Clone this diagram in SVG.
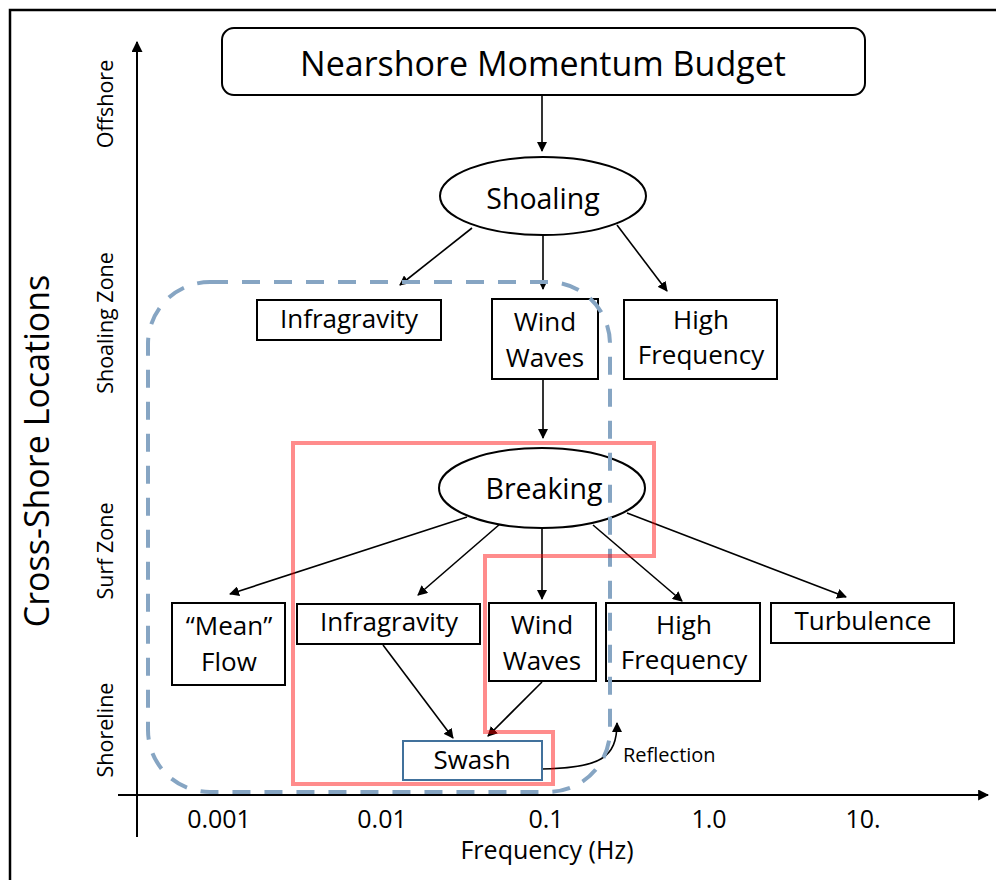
<svg xmlns="http://www.w3.org/2000/svg" width="996" height="880" viewBox="0 0 996 880">
<defs>
<style>
text{font-family:"Open Sans",Lato,"Liberation Sans",sans-serif;fill:#000}
.box{fill:#fff;stroke:#000;stroke-width:2}
.ell{fill:#fff;stroke:#000;stroke-width:2}
.arr{stroke:#000;stroke-width:1.6;fill:none;marker-end:url(#ah)}
.ax{stroke:#000;stroke-width:2;fill:none}
.lbl{font-size:26px;text-anchor:middle}
.ylab{font-size:21.5px;text-anchor:middle}
.xlab{font-size:25px;text-anchor:middle}
</style>
<marker id="ah" viewBox="0 0 10 10" refX="9" refY="5" markerWidth="10" markerHeight="10" markerUnits="userSpaceOnUse" orient="auto">
<path d="M0,0 L10,5 L0,10 z" fill="#000"/>
</marker>
<marker id="axh" viewBox="0 0 10 10" refX="9" refY="5" markerWidth="11" markerHeight="11" markerUnits="userSpaceOnUse" orient="auto">
<path d="M0,0 L10,5 L0,10 z" fill="#000"/>
</marker>
</defs>
<rect width="996" height="880" fill="#fff"/>
<path d="M10,880 V10 H996" fill="none" stroke="#000" stroke-width="2.5"/>

<g id="axes">
<line x1="137" y1="837" x2="137" y2="42" class="ax" marker-end="url(#axh)"/>
<line x1="118" y1="795" x2="988" y2="795" class="ax" marker-end="url(#axh)"/>
<text transform="translate(49,451) rotate(-90)" style="font-size:34px;text-anchor:middle">Cross-Shore Locations</text>
<text transform="translate(113,104) rotate(-90)" class="ylab">Offshore</text>
<text transform="translate(113,323) rotate(-90)" class="ylab">Shoaling Zone</text>
<text transform="translate(113,551) rotate(-90)" class="ylab">Surf Zone</text>
<text transform="translate(113,730) rotate(-90)" class="ylab">Shoreline</text>
<text x="219" y="828" class="xlab">0.001</text>
<text x="382" y="828" class="xlab">0.01</text>
<text x="546" y="828" class="xlab">0.1</text>
<text x="709" y="828" class="xlab">1.0</text>
<text x="863" y="828" class="xlab">10.</text>
<text x="547" y="859" class="xlab">Frequency (Hz)</text>
</g>

<g id="connectors">
<line x1="542" y1="96" x2="542" y2="151" class="arr"/>
<line x1="472" y1="228" x2="400" y2="285" class="arr"/>
<line x1="543" y1="235" x2="543" y2="289" class="arr"/>
<line x1="617" y1="225" x2="667" y2="291" class="arr"/>
<line x1="543" y1="379" x2="543" y2="438" class="arr"/>
<line x1="467" y1="517" x2="230" y2="594" class="arr"/>
<line x1="500" y1="524" x2="418" y2="595" class="arr"/>
<line x1="542" y1="528" x2="542" y2="599" class="arr"/>
<line x1="593" y1="525" x2="682" y2="601" class="arr"/>
<line x1="627" y1="513" x2="846" y2="597" class="arr"/>
<line x1="383" y1="645" x2="453" y2="738" class="arr"/>
<line x1="542" y1="682" x2="488" y2="736" class="arr"/>
<path d="M542,769 C600,768 617,758 617,723" class="arr"/>
<text x="623" y="762" style="font-size:20px">Reflection</text>
</g>

<g id="title">
<rect x="222" y="28" width="643" height="67" rx="12" class="box"/>
<text x="543" y="76" style="font-size:34px;text-anchor:middle">Nearshore Momentum Budget</text>
</g>

<g id="shoaling">
<ellipse cx="543" cy="196" rx="103" ry="39" class="ell"/>
<text x="543" y="209" style="font-size:28.5px;text-anchor:middle">Shoaling</text>
</g>

<g id="infragravity-top">
<rect x="257" y="300" width="184" height="40" class="box"/>
<text x="349" y="328" class="lbl">Infragravity</text>
</g>
<g id="windwaves-top">
<rect x="492" y="299" width="106" height="80" class="box"/>
<text x="545" y="331" class="lbl">Wind</text>
<text x="545" y="367" class="lbl">Waves</text>
</g>
<g id="highfreq-top">
<rect x="624" y="300" width="153" height="79" class="box"/>
<text x="701" y="329" class="lbl">High</text>
<text x="701" y="364" class="lbl">Frequency</text>
</g>

<g id="breaking">
<ellipse cx="542" cy="488" rx="103" ry="40" class="ell"/>
<text x="544" y="499" style="font-size:28.5px;text-anchor:middle">Breaking</text>
</g>

<g id="meanflow">
<rect x="172" y="603" width="113" height="82" class="box"/>
<text x="229" y="635" class="lbl">“Mean”</text>
<text x="229" y="671" class="lbl">Flow</text>
</g>
<g id="infragravity-bottom">
<rect x="297" y="604" width="183" height="40" class="box"/>
<text x="389" y="631" class="lbl">Infragravity</text>
</g>
<g id="windwaves-bottom">
<rect x="489" y="603" width="107" height="78" class="box"/>
<text x="542" y="634" class="lbl">Wind</text>
<text x="542" y="670" class="lbl">Waves</text>
</g>
<g id="highfreq-bottom">
<rect x="606" y="603" width="154" height="78" class="box"/>
<text x="684" y="634" class="lbl">High</text>
<text x="684" y="669" class="lbl">Frequency</text>
</g>
<g id="turbulence">
<rect x="771" y="603" width="183" height="40" class="box"/>
<text x="863" y="630" class="lbl">Turbulence</text>
</g>
<g id="swash">
<rect x="403" y="741" width="139" height="39" fill="#fff" stroke="#41719C" stroke-width="2"/>
<text x="472" y="769" class="lbl">Swash</text>
</g>

<g id="regions">
<rect x="148" y="282" width="462" height="510" rx="62" fill="none" stroke="#86A5C3" stroke-width="4" stroke-dasharray="18 14"/>
<path d="M293,443 H654 V556 H485 V732 H553 V784 H293 Z" fill="none" stroke="#FF0000" stroke-opacity="0.45" stroke-width="4"/>
</g>
</svg>
